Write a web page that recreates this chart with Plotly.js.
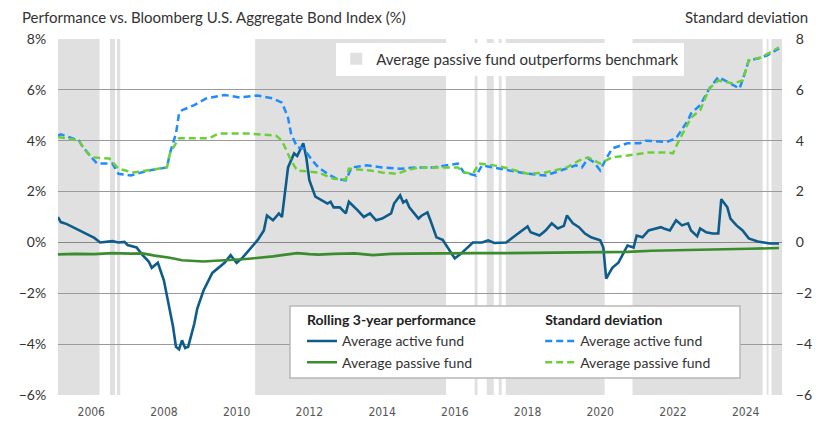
<!DOCTYPE html>
<html>
<head>
<meta charset="utf-8">
<script src="https://cdn.plot.ly/plotly-3.0.1.min.js"></script>
<style>html,body{margin:0;padding:0;background:#fff;}#chart{width:825px;height:445px;}</style>
</head>
<body>
<div id="chart"></div>
<script>
// Rolling 3-year performance vs index (%)
const activePerfDates = ['2005-02','2005-03','2005-05','2005-07','2005-09','2005-12','2006-02','2006-04','2006-06','2006-08','2006-10','2006-12','2007-01','2007-04','2007-06','2007-08','2007-09','2007-11','2008-01','2008-03','2008-04','2008-05','2008-06','2008-07','2008-08','2008-09','2008-11','2008-12','2009-02','2009-05','2009-07','2009-09','2009-11','2010-01','2010-03','2010-06','2010-08','2010-10','2010-11','2011-01','2011-03','2011-04','2011-06','2011-08','2011-09','2011-11','2011-12','2012-01','2012-03','2012-07','2012-08','2012-09','2012-11','2013-01','2013-02','2013-05','2013-07','2013-09','2013-11','2014-01','2014-04','2014-05','2014-07','2014-08','2014-09','2014-10','2015-01','2015-02','2015-04','2015-05','2015-07','2015-09','2015-11','2016-01','2016-03','2016-05','2016-07','2016-10','2016-12','2017-02','2017-06','2017-09','2018-01','2018-02','2018-05','2018-07','2018-09','2018-11','2019-01','2019-02','2019-04','2019-06','2019-08','2019-10','2020-01','2020-02','2020-03','2020-05','2020-07','2020-10','2020-12','2021-01','2021-03','2021-05','2021-08','2021-09','2021-10','2021-12','2022-02','2022-04','2022-06','2022-07','2022-09','2022-10','2022-12','2023-02','2023-04','2023-05','2023-07','2023-08','2023-10','2023-12','2024-02','2024-05','2024-07','2024-09','2024-12'];
const activePerf = [1.0,0.8,0.72,0.6,0.45,0.28,0.18,0.0,0.03,0.05,0.0,0.02,-0.1,-0.2,-0.5,-0.75,-1.0,-0.8,-1.5,-2.6,-3.3,-4.1,-4.2,-3.85,-4.15,-4.1,-3.2,-2.6,-1.9,-1.2,-1.0,-0.8,-0.5,-0.8,-0.6,-0.2,0.1,0.47,1.06,0.87,1.14,1.0,2.95,3.5,3.4,3.9,3.35,2.45,1.8,1.53,1.6,1.38,1.38,1.14,1.6,1.26,1.0,1.14,0.87,0.94,1.14,1.53,1.85,1.57,1.65,1.38,0.94,1.05,1.18,0.87,0.2,0.1,-0.24,-0.63,-0.45,-0.24,0.0,0.0,0.08,-0.02,0.0,0.27,0.63,0.4,0.27,0.47,0.75,0.55,0.65,1.06,0.75,0.6,0.35,0.2,0.08,-0.2,-1.42,-1.0,-0.8,-0.12,-0.2,0.27,0.2,0.47,0.55,0.6,0.55,0.47,0.87,0.67,0.75,0.47,0.24,0.55,0.4,0.35,0.35,1.7,1.38,0.94,0.67,0.47,0.16,0.04,0.0,-0.04,-0.04];

const passivePerfDates = ['2005-02','2005-08','2006-02','2006-08','2007-02','2007-06','2007-10','2008-03','2008-07','2008-11','2009-02','2009-06','2009-10','2010-03','2010-06','2010-10','2011-01','2011-04','2011-09','2012-01','2012-04','2012-09','2013-04','2013-10','2014-04','2014-10','2015-04','2016-01','2016-08','2017-06','2018-03','2019-01','2019-09','2020-03','2020-10','2021-06','2022-01','2022-09','2023-06','2024-02','2024-08','2024-12'];
const passivePerf = [-0.47,-0.45,-0.46,-0.42,-0.44,-0.43,-0.52,-0.6,-0.7,-0.72,-0.75,-0.72,-0.7,-0.66,-0.63,-0.6,-0.55,-0.5,-0.42,-0.46,-0.48,-0.45,-0.43,-0.5,-0.45,-0.44,-0.43,-0.43,-0.42,-0.42,-0.41,-0.4,-0.38,-0.36,-0.37,-0.33,-0.32,-0.3,-0.27,-0.25,-0.22,-0.22];

// Standard deviation
const activeSdDates = ['2005-02','2005-03','2005-09','2005-10','2006-01','2006-03','2006-08','2006-10','2007-02','2007-04','2007-08','2008-02','2008-03','2008-05','2008-06','2008-07','2008-11','2009-03','2009-09','2010-02','2010-08','2011-01','2011-04','2011-06','2011-07','2011-09','2011-11','2012-02','2012-04','2012-07','2012-10','2013-01','2013-03','2013-08','2014-01','2014-07','2015-01','2015-06','2015-11','2016-02','2016-04','2016-08','2016-10','2017-04','2017-08','2018-01','2018-07','2018-12','2019-05','2019-07','2019-09','2019-11','2020-01','2020-03','2020-05','2020-10','2021-02','2021-04','2021-11','2022-02','2022-06','2022-07','2022-10','2023-01','2023-04','2023-08','2023-11','2024-01','2024-02','2024-05','2024-08','2024-12'];
const activeSd = [4.2,4.25,4.0,3.8,3.35,3.1,3.1,2.7,2.63,2.7,2.83,2.95,3.5,4.28,5.07,5.2,5.4,5.66,5.8,5.7,5.78,5.66,5.5,4.9,4.28,3.74,3.7,3.22,2.95,2.7,2.5,2.44,2.95,3.03,2.95,2.9,2.95,2.95,3.03,3.1,2.75,2.63,3.03,2.9,2.83,2.7,2.63,2.83,3.03,2.95,3.3,3.15,2.83,3.3,3.7,3.9,3.9,4.0,3.95,4.1,4.8,5.07,5.4,6.05,6.5,6.25,6.05,6.76,7.16,7.23,7.35,7.63];

const passiveSdDates = ['2005-02','2005-09','2005-10','2006-01','2006-07','2006-10','2007-03','2007-08','2008-02','2008-03','2008-06','2009-04','2009-07','2010-05','2011-02','2011-04','2011-07','2011-09','2012-04','2012-09','2013-01','2013-02','2013-09','2014-01','2014-06','2014-09','2015-01','2015-06','2016-02','2016-04','2016-07','2016-09','2017-02','2017-07','2018-01','2018-07','2019-02','2019-06','2019-09','2020-01','2020-05','2020-10','2021-02','2021-05','2021-11','2022-01','2022-03','2022-06','2022-07','2022-10','2023-01','2023-04','2023-09','2023-12','2024-02','2024-06','2024-12'];
const passiveSd = [4.15,4.0,3.8,3.35,3.3,2.9,2.75,2.83,2.95,3.5,4.1,4.1,4.28,4.28,4.2,4.0,3.22,2.83,2.75,2.5,2.48,2.9,2.83,2.75,2.7,2.83,2.95,2.95,2.95,2.75,2.7,3.1,3.03,2.9,2.7,2.75,2.95,3.22,3.35,3.1,3.35,3.42,3.5,3.54,3.54,3.5,4.0,4.67,4.9,5.2,6.05,6.37,6.25,6.37,7.16,7.27,7.67];

// Periods where the average passive fund outperforms the benchmark
const shadeStart = ['2005-02-01','2006-07-08','2006-09-16','2010-07-05','2016-07-19','2016-11-17','2017-03-17','2017-05-27','2020-11-20','2024-07-30','2024-09-16'];
const shadeEnd   = ['2006-03-25','2006-08-28','2006-10-19','2015-10-05','2016-08-16','2017-01-26','2017-04-16','2020-02-14','2024-06-20','2024-08-18','2024-12-31'];

const yTicks = [-6,-4,-2,0,2,4,6,8];
const fmt = v => (v < 0 ? '\u2212' + Math.abs(v) : String(v));
const yTickTextLeft = yTicks.map(v => fmt(v) + '%');
const yTickTextRight = yTicks.map(v => fmt(v));

const FONT = 'Lato, "Open Sans", sans-serif';

const shapes = shadeStart.map((s, i) => ({
  type: 'rect', xref: 'x', yref: 'paper', x0: s, x1: shadeEnd[i], y0: 0, y1: 1,
  fillcolor: '#e0e0e0', line: {width: 0}, layer: 'below'
}));
// legend frame (white box with grey border)
shapes.push({
  type: 'rect', xref: 'paper', yref: 'paper', x0: 0.3204, x1: 0.942, y0: 0.048, y1: 0.25,
  fillcolor: '#ffffff', line: {color: '#b8b8b8', width: 1.5}, layer: 'above'
});

const traces = [
  {type: 'bar', x: [null], y: [null], name: 'Average passive fund outperforms benchmark',
   marker: {color: '#e0e0e0'}, legend: 'legend2', hoverinfo: 'skip'},
  {type: 'scatter', mode: 'lines', x: activePerfDates, y: activePerf, name: 'Average active fund',
   line: {color: '#0e5c8a', width: 2.6}, legendgroup: 'perf', legend: 'legend',
   legendgrouptitle: {text: '<b>Rolling 3-year performance</b>', font: {size: 14, color: '#222'}}},
  {type: 'scatter', mode: 'lines', x: passivePerfDates, y: passivePerf, name: 'Average passive fund',
   line: {color: '#3a8c2e', width: 2.6}, legendgroup: 'perf', legend: 'legend'},
  {type: 'scatter', mode: 'lines', x: activeSdDates, y: activeSd, yaxis: 'y2', name: 'Average active fund',
   line: {color: '#1e8cff', width: 2.5, dash: '7px,4px'}, legendgroup: 'sd', legend: 'legend3',
   legendgrouptitle: {text: '<b>Standard deviation</b>', font: {size: 14, color: '#222'}}},
  {type: 'scatter', mode: 'lines', x: passiveSdDates, y: passiveSd, yaxis: 'y2', name: 'Average passive fund',
   line: {color: '#6ccf3a', width: 2.5, dash: '7px,4px'}, legendgroup: 'sd', legend: 'legend3'}
];

const layout = {
  width: 825, height: 445,
  margin: {l: 58, r: 43, t: 39, b: 50},
  paper_bgcolor: '#fff', plot_bgcolor: 'rgba(0,0,0,0)',
  font: {family: FONT, size: 14, color: '#333'},
  showlegend: true,
  xaxis: {
    type: 'date', range: ['2005-02-01', '2024-12-31'],
    tick0: '2006-01-01', dtick: 'M24', tickformat: '%Y',
    showgrid: false, zeroline: false, showline: false,
    ticks: 'outside', ticklen: 6, tickcolor: 'rgba(0,0,0,0)',
    tickfont: {family: '"Liberation Sans Narrow", "DejaVu Sans Condensed", sans-serif', size: 12, color: '#555'}
  },
  yaxis: {
    range: [-6, 8], tickmode: 'array', tickvals: yTicks, ticktext: yTickTextLeft,
    showgrid: true, gridcolor: '#9a9a9a', gridwidth: 1,
    zeroline: true, zerolinecolor: '#888', zerolinewidth: 1.5,
    showline: false, ticks: 'outside', ticklen: 8, tickcolor: 'rgba(0,0,0,0)',
    tickfont: {size: 14, color: '#333'}
  },
  yaxis2: {
    range: [-6, 8], tickmode: 'array', tickvals: yTicks, ticktext: yTickTextRight,
    overlaying: 'y', side: 'right',
    showgrid: false, zeroline: false, showline: false,
    ticks: 'outside', ticklen: 10, tickcolor: 'rgba(0,0,0,0)',
    tickfont: {size: 14, color: '#333'}
  },
  legend: {
    x: 0.337, xanchor: 'left', y: 0.255, yanchor: 'top',
    bgcolor: 'rgba(0,0,0,0)', borderwidth: 0,
    font: {size: 14, color: '#333'}, itemwidth: 30
  },
  legend3: {
    x: 0.666, xanchor: 'left', y: 0.255, yanchor: 'top',
    bgcolor: 'rgba(0,0,0,0)', borderwidth: 0,
    font: {size: 14, color: '#333'}, itemwidth: 30
  },
  legend2: {
    x: 0.865, xanchor: 'right', y: 0.99, yanchor: 'top',
    bgcolor: '#fff', borderwidth: 0,
    font: {size: 15, color: '#333'}
  },
  shapes: shapes,
  annotations: [
    {text: 'Performance vs. Bloomberg U.S. Aggregate Bond Index (%)', xref: 'paper', yref: 'paper',
     x: -0.0525, y: 1.062, xanchor: 'left', yanchor: 'middle', showarrow: false,
     font: {size: 15, color: '#333'}},
    {text: 'Standard deviation', xref: 'paper', yref: 'paper',
     x: 1.0387, y: 1.062, xanchor: 'right', yanchor: 'middle', showarrow: false,
     font: {size: 15, color: '#333'}}
  ]
};

Plotly.newPlot('chart', traces, layout, {displayModeBar: false, staticPlot: true});
</script>
</body>
</html>
